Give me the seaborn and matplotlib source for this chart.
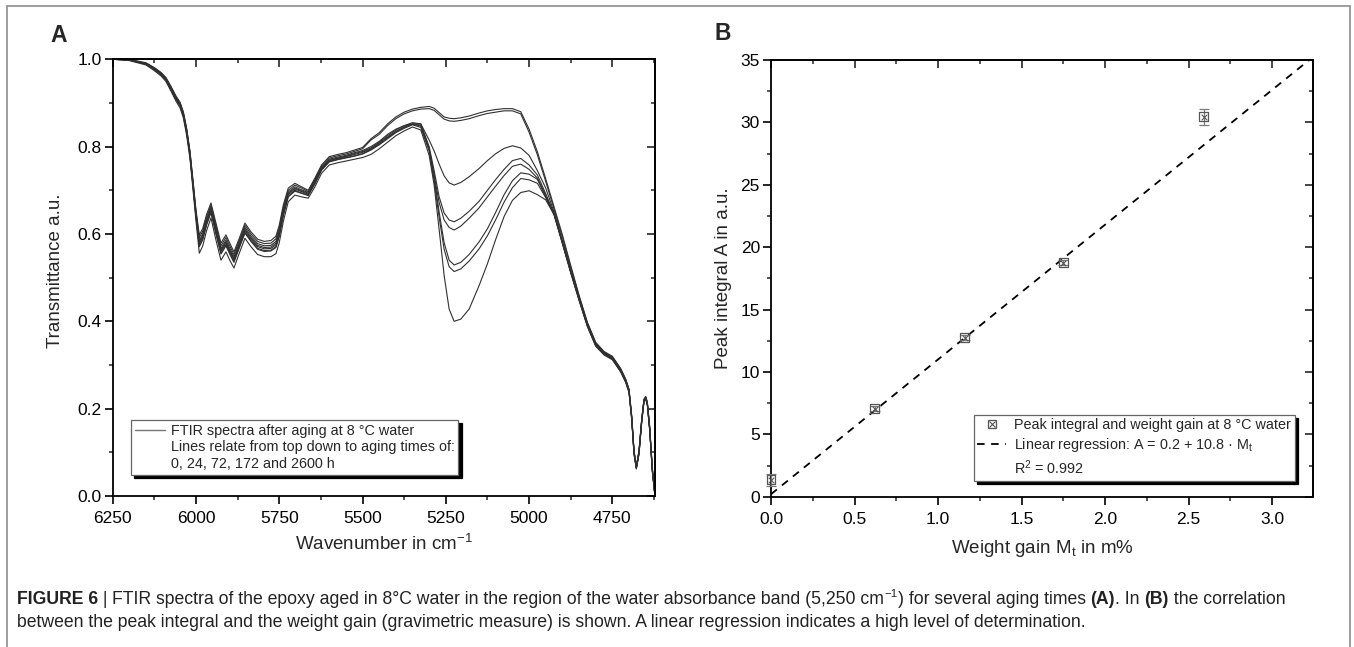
import matplotlib
matplotlib.use("Agg")
import numpy as np
import pandas as pd
import matplotlib.pyplot as plt
import seaborn as sns
from matplotlib.lines import Line2D
from matplotlib.patches import Rectangle
from matplotlib.ticker import MultipleLocator, FormatStrFormatter
from matplotlib.transforms import IdentityTransform
from matplotlib import font_manager

# ---------------- data: panel A (FTIR spectra) ----------------
wavenumber = [6250, 6225, 6200, 6175, 6150, 6125, 6105, 6090, 6075, 6060,
              6048, 6038, 6028, 6018, 6008, 6000, 5990, 5980, 5968, 5955,
              5940, 5925, 5910, 5898, 5886, 5870, 5853, 5835, 5815, 5795,
              5775, 5760, 5750, 5738, 5723, 5703, 5683, 5663, 5643, 5623,
              5600, 5575, 5550, 5525, 5500, 5475, 5450, 5425, 5400, 5375,
              5350, 5325, 5300, 5285, 5270, 5255, 5240, 5225, 5205, 5180,
              5150, 5125, 5100, 5075, 5050, 5025, 5000, 4975, 4950, 4925,
              4900, 4875, 4850, 4825, 4800, 4775, 4750, 4725, 4710, 4700,
              4692, 4685, 4678, 4670, 4662, 4655, 4650, 4645, 4638, 4630, 4622]

spectrum_1 = [1.000, 1.000, .999, .996, .992, .981, .970, .958, .938, .916, .902, .880, .842, .790, .716, .655,
              .598, .612, .645, .671, .625, .579, .598, .578, .559, .590, .625, .605, .588, .583, .585, .595, .620, .666, .705, .716, .708, .700, .728, .758, .777, .782, .786, .792, .798,
              .818, .832, .852, .868, .879, .886, .890,
              .892, .888, .878, .868, .865, .864, .866, .870, .877, .882, .885, .887, .887, .880, .840, .788, .726,
              .662, .598, .528, .460, .398, .352, .331, .320, .292, .268, .245, .185, .105, .068, .105, .175, .222, .228, .215, .160, .065, .000]
spectrum_2 = [1.000, 1.000, .999, .995, .991, .980, .969, .957, .936, .914, .900, .878, .840, .787, .713, .651,
              .592, .606, .639, .666, .619, .573, .592, .572, .553, .585, .620, .600, .583, .578, .579, .589, .614, .660, .700, .712, .705, .697, .725, .755, .774, .779, .783, .789, .795,
              .815, .828, .848, .864, .875, .882, .886,
              .887, .883, .873, .863, .859, .858, .860, .864, .871, .876, .879, .882, .882, .875, .833, .781, .720,
              .657, .593, .524, .457, .396, .350, .329, .318, .290, .266, .243, .183, .103, .067, .103, .173, .220, .226, .213, .158, .063, .000]
spectrum_3 = [1.000, 1.000, .998, .995, .990, .979, .968, .955, .935, .912, .898, .876, .837, .785, .709, .648,
              .585, .600, .634, .661, .613, .567, .586, .566, .548, .580, .615, .595, .578, .573, .574, .583, .608, .655, .696, .708, .701, .695, .722, .752, .771, .776, .780, .786, .791,
              .800, .812, .828, .840, .848, .852, .852,
              .815, .790, .760, .733, .717, .712, .718, .731, .750, .768, .784, .796, .802, .797, .780, .745, .705,
              .650, .584, .517, .454, .394, .349, .329, .318, .290, .266, .243, .182, .102, .066, .102, .174, .221, .227, .213, .156, .061, .000]
spectrum_4 = [1.000, 1.000, .998, .994, .990, .978, .967, .954, .934, .911, .897, .874, .836, .783, .707, .645,
              .581, .596, .630, .657, .609, .563, .582, .562, .544, .576, .611, .591, .574, .569, .570, .579, .604, .651, .693, .705, .699, .693, .720, .750, .769, .774, .778, .784, .789,
              .797, .810, .825, .838, .848, .855, .852,
              .800, .745, .685, .648, .632, .628, .636, .652, .675, .700, .725, .748, .768, .773, .758, .735, .692,
              .647, .582, .515, .452, .392, .347, .327, .316, .288, .264, .241, .180, .100, .065, .100, .172, .220, .226, .212, .155, .060, .000]
spectrum_5 = [1.000, .999, .998, .994, .990, .978, .966, .954, .933, .910, .896, .873, .834, .781, .705, .643,
              .577, .592, .627, .654, .606, .560, .579, .559, .541, .573, .608, .588, .571, .566, .567, .575, .600, .647, .690, .703, .697, .691, .718, .749, .768, .773, .777, .782, .787,
              .795, .808, .822, .835, .845, .852, .849,
              .795, .735, .672, .632, .615, .609, .618, .636, .660, .685, .710, .734, .755, .760, .748, .728, .688,
              .646, .581, .514, .451, .391, .346, .326, .315, .287, .263, .240, .179, .099, .064, .099, .171, .219, .225, .211, .154, .059, .000]
spectrum_6 = [1.000, .999, .998, .994, .989, .977, .965, .953, .931, .909, .894, .872, .832, .779, .703, .640,
              .573, .588, .623, .651, .602, .556, .575, .555, .537, .570, .604, .585, .567, .562, .563, .571, .596, .643, .686, .700, .694, .689, .716, .747, .766, .771, .775, .779, .784,
              .794, .806, .820, .834, .844, .852, .847,
              .795, .730, .650, .580, .540, .529, .535, .553, .582, .612, .650, .690, .722, .740, .737, .725, .685,
              .645, .580, .513, .450, .390, .345, .325, .314, .286, .262, .239, .178, .098, .064, .098, .170, .218, .224, .210, .153, .058, .000]
spectrum_7 = [1.000, .999, .998, .993, .989, .976, .965, .952, .931, .908, .894, .871, .832, .778, .702, .639,
              .571, .586, .621, .649, .600, .554, .573, .553, .535, .568, .602, .583, .565, .560, .561, .569, .594, .641, .685, .698, .693, .688, .715, .746, .765, .770, .774, .778, .783,
              .792, .804, .818, .832, .842, .850, .844,
              .790, .722, .638, .565, .525, .514, .520, .538, .566, .596, .633, .673, .706, .727, .724, .716, .683,
              .645, .579, .512, .449, .389, .344, .324, .313, .285, .261, .238, .177, .097, .063, .097, .169, .217, .223, .209, .152, .057, .000]
spectrum_8 = [1.000, .999, .997, .992, .987, .974, .962, .949, .927, .904, .889, .866, .826, .772, .694, .630,
              .556, .572, .608, .637, .586, .540, .559, .539, .522, .556, .590, .571, .553, .548, .548, .555, .580, .628, .674, .689, .685, .682, .708, .739, .758, .763, .767, .771, .775,
              .782, .795, .810, .825, .836, .845, .838,
              .780, .712, .610, .505, .428, .400, .405, .428, .482, .532, .588, .640, .677, .695, .699, .690, .678,
              .644, .578, .511, .448, .388, .343, .323, .312, .284, .260, .237, .176, .096, .062, .096, .168, .216, .222, .208, .151, .056, .000]

spectra = [spectrum_1, spectrum_2, spectrum_3, spectrum_4,
           spectrum_5, spectrum_6, spectrum_7, spectrum_8]

legend_A_labels = ["FTIR spectra after aging at 8 °C water",
                   "Lines relate from top down to aging times of:",
                   "0, 24, 72, 172 and 2600 h"]

# ---------------- data: panel B (peak integral vs weight gain) ----------------
weight_gain = [0.0, 0.62, 1.16, 1.75, 2.59]
peak_integral = [1.35, 7.05, 12.75, 18.75, 30.45]
peak_integral_err = [0.5, 0.2, 0.2, 0.2, 0.65]
reg_intercept = 0.2
reg_slope = 10.8
legend_B_labels = ["Peak integral and weight gain at 8 °C water",
                   "Linear regression: A = 0.2 + 10.8 · M$_\\mathregular{t}$",
                   "R$^\\mathregular{2}$ = 0.992"]

# ---------------- style ----------------
sns.set_theme(style="ticks")
plt.rcParams["font.family"] = ["Liberation Sans", "DejaVu Sans"]
plt.rcParams["mathtext.fontset"] = "custom"
plt.rcParams["mathtext.rm"] = "Liberation Sans"
plt.rcParams["mathtext.it"] = "Liberation Sans:italic"
plt.rcParams["mathtext.bf"] = "Liberation Sans:bold"
plt.rcParams["axes.unicode_minus"] = True

try:
    font_manager.findfont("Liberation Sans Narrow", fallback_to_default=False)
    caption_family = ["Liberation Sans Narrow", "Liberation Sans", "DejaVu Sans"]
except Exception:
    caption_family = ["Liberation Sans", "DejaVu Sans"]

W, H = 1354, 647
fig = plt.figure(figsize=(W / 100, H / 100), dpi=100)
fig.patch.set_facecolor("white")

axA = fig.add_axes([112.7 / W, 1 - 496 / H, 542.3 / W, 436.7 / H])
axB = fig.add_axes([771 / W, 1 - 496.7 / H, 542 / W, 436.7 / H])


def style_axes(ax, xmaj, xmin, ymaj, ymin):
    for s in ax.spines.values():
        s.set_linewidth(1.3)
        s.set_color("black")
    ax.xaxis.set_major_locator(MultipleLocator(xmaj))
    ax.xaxis.set_minor_locator(MultipleLocator(xmin))
    ax.yaxis.set_major_locator(MultipleLocator(ymaj))
    ax.yaxis.set_minor_locator(MultipleLocator(ymin))
    ax.tick_params(which="major", direction="out", length=6, width=1.2,
                   colors="black", labelsize=12.5, top=False, right=False)
    ax.tick_params(which="minor", direction="out", length=3.2, width=1.1,
                   top=False, right=False)
    ax.tick_params(axis="x", which="major", pad=5)
    ax.tick_params(axis="y", which="major", pad=2)
    secx = ax.secondary_xaxis("top")
    secx.xaxis.set_major_locator(MultipleLocator(xmaj))
    secx.xaxis.set_minor_locator(MultipleLocator(xmin))
    secx.tick_params(which="major", direction="in", length=6, width=1.2, labeltop=False)
    secx.tick_params(which="minor", direction="in", length=3.2, width=1.1, labeltop=False)
    secx.spines["top"].set_linewidth(1.3)
    secy = ax.secondary_yaxis("right")
    secy.yaxis.set_major_locator(MultipleLocator(ymaj))
    secy.yaxis.set_minor_locator(MultipleLocator(ymin))
    secy.tick_params(which="major", direction="in", length=6, width=1.2, labelright=False)
    secy.tick_params(which="minor", direction="in", length=3.2, width=1.1, labelright=False)
    secy.spines["right"].set_linewidth(1.3)
    ax.grid(False)


# ---------------- panel A ----------------
for s in spectra:
    assert len(s) == len(wavenumber)
n = len(wavenumber)
dfA = pd.DataFrame({
    "wn": np.tile(np.array(wavenumber, dtype=float), len(spectra)),
    "T": np.concatenate([np.array(s, dtype=float) for s in spectra]),
    "line": np.repeat(np.arange(len(spectra)), n),
})
sns.lineplot(data=dfA, x="wn", y="T", units="line", estimator=None, sort=False,
             color="#303030", linewidth=0.8, ax=axA, legend=False)
axA.set_xlim(6250, 4622)
axA.set_ylim(0, 1.0)
style_axes(axA, 250, 125, 0.2, 0.1)
axA.yaxis.set_major_formatter(FormatStrFormatter("%.1f"))
axA.set_xlabel("Wavenumber in cm$^{-1}$", fontsize=13.5)
axA.set_ylabel("Transmittance a.u.", fontsize=13.5)
axA.xaxis.set_label_coords(0.5, -0.087)
axA.yaxis.set_label_coords(-0.09, 0.515)

hA = [Line2D([], [], color="#777777", lw=1.0),
      Line2D([], [], alpha=0), Line2D([], [], alpha=0)]
legA = axA.legend(hA, legend_A_labels, loc="lower left",
                  bbox_to_anchor=((131 - 112.7) / 542.3, (496 - 475) / 436.7),
                  borderaxespad=0, frameon=True, fancybox=False,
                  shadow={"ox": 2.5, "oy": -2.5, "color": "black", "alpha": 1},
                  edgecolor="#666666", framealpha=1, fontsize=10.4,
                  handlelength=2.1, handletextpad=0.4, labelspacing=0.2,
                  borderpad=0.25)
legA.get_frame().set_linewidth(0.9)

# ---------------- panel B ----------------
x_fit = np.array([0.0, 3.245])
dfFit = pd.DataFrame({"x": x_fit, "y": reg_intercept + reg_slope * x_fit})
sns.lineplot(data=dfFit, x="x", y="y", color="black", linewidth=1.3,
             linestyle="--", ax=axB, legend=False)
axB.lines[-1].set_dashes([4.2, 3.6])

axB.errorbar(weight_gain, peak_integral, yerr=peak_integral_err, fmt="none",
             ecolor="#7a7a7a", elinewidth=0.9, capsize=3.6, capthick=0.9,
             clip_on=False, zorder=3)
dfB = pd.DataFrame({"x": weight_gain, "y": peak_integral})
sns.scatterplot(data=dfB, x="x", y="y", marker="s", s=40, color="none",
                edgecolor="#555555", linewidth=0.9, ax=axB, legend=False,
                clip_on=False, zorder=4)
sns.scatterplot(data=dfB, x="x", y="y", marker="x", s=16, color="#555555",
                linewidth=0.8, ax=axB, legend=False, clip_on=False, zorder=4)
axB.set_xlim(0, 3.245)
axB.set_ylim(0, 35)
style_axes(axB, 0.5, 0.25, 5, 2.5)
axB.xaxis.set_major_formatter(FormatStrFormatter("%.1f"))
axB.set_xlabel("Weight gain M$_\\mathregular{t}$ in m%", fontsize=13.5)
axB.set_ylabel("Peak integral A in a.u.", fontsize=13.5)
axB.xaxis.set_label_coords(0.5, -0.094)
axB.yaxis.set_label_coords(-0.072, 0.5)

hB = [(Line2D([], [], ls="none", marker="s", ms=6, mfc="none", mec="#555555", mew=0.9),
       Line2D([], [], ls="none", marker="x", ms=4, mec="#555555", mew=0.8)),
      Line2D([], [], color="black", lw=1.3, dashes=[4.2, 3.6]),
      Line2D([], [], alpha=0)]
legB = axB.legend(hB, legend_B_labels, loc="lower left",
                  bbox_to_anchor=((973.6 - 771) / 542, (496.7 - 481) / 436.7),
                  borderaxespad=0, frameon=True, fancybox=False,
                  shadow={"ox": 2.5, "oy": -2.5, "color": "black", "alpha": 1},
                  edgecolor="#666666", framealpha=1, fontsize=10.4,
                  handlelength=2.0, handletextpad=0.55, labelspacing=0.3,
                  borderpad=0.25)
legB.get_frame().set_linewidth(0.9)

# panel letters
fig.text(50 / W, 1 - 35 / H, "A", fontsize=16.5, fontweight="bold", va="center", ha="left")
fig.text(714 / W, 1 - 34 / H, "B", fontsize=16.5, fontweight="bold", va="center", ha="left")

# figure frame
fig.add_artist(Rectangle((7 / W, -0.05), (1350 - 7) / W, 1.05 - 6 / H,
                         transform=fig.transFigure, fill=False,
                         edgecolor="#8c8c8c", lw=1.2))

# ---------------- caption ----------------
cap1 = [("FIGURE 6", "bold"), (" | ", "normal"),
        ("FTIR spectra of the epoxy aged in 8°C water in the region of the water absorbance band (5,250 cm", "normal"),
        ("−1", "sup"), (") for several aging times ", "normal"), ("(A)", "bold"),
        (". In ", "normal"), ("(B)", "bold"), (" the correlation", "normal")]
cap2 = [("between the peak integral and the weight gain (gravimetric measure) is shown. "
         "A linear regression indicates a high level of determination.", "normal")]

renderer = fig.canvas.get_renderer()


def draw_line(segs, x0, y0, size):
    arts = []
    x = x0
    for txt, kind in segs:
        if kind == "sup":
            t = fig.text(x, y0 + size * 0.55, txt, fontsize=size * 0.65,
                         family=caption_family, transform=IdentityTransform(),
                         va="baseline", ha="left", color="#222222")
        else:
            t = fig.text(x, y0, txt, fontsize=size, fontweight=kind,
                         family=caption_family, transform=IdentityTransform(),
                         va="baseline", ha="left", color="#222222")
        arts.append(t)
        x += t.get_window_extent(renderer).width
    return arts, x - x0


arts, wid = draw_line(cap1, 17, H - 604, 11)
for a in arts:
    a.remove()
size = 11 * (1281 - 17) / wid
draw_line(cap1, 17, H - 604, size)
draw_line(cap2, 17, H - 627, size)

fig.savefig("out.png", dpi=100, facecolor="white")
